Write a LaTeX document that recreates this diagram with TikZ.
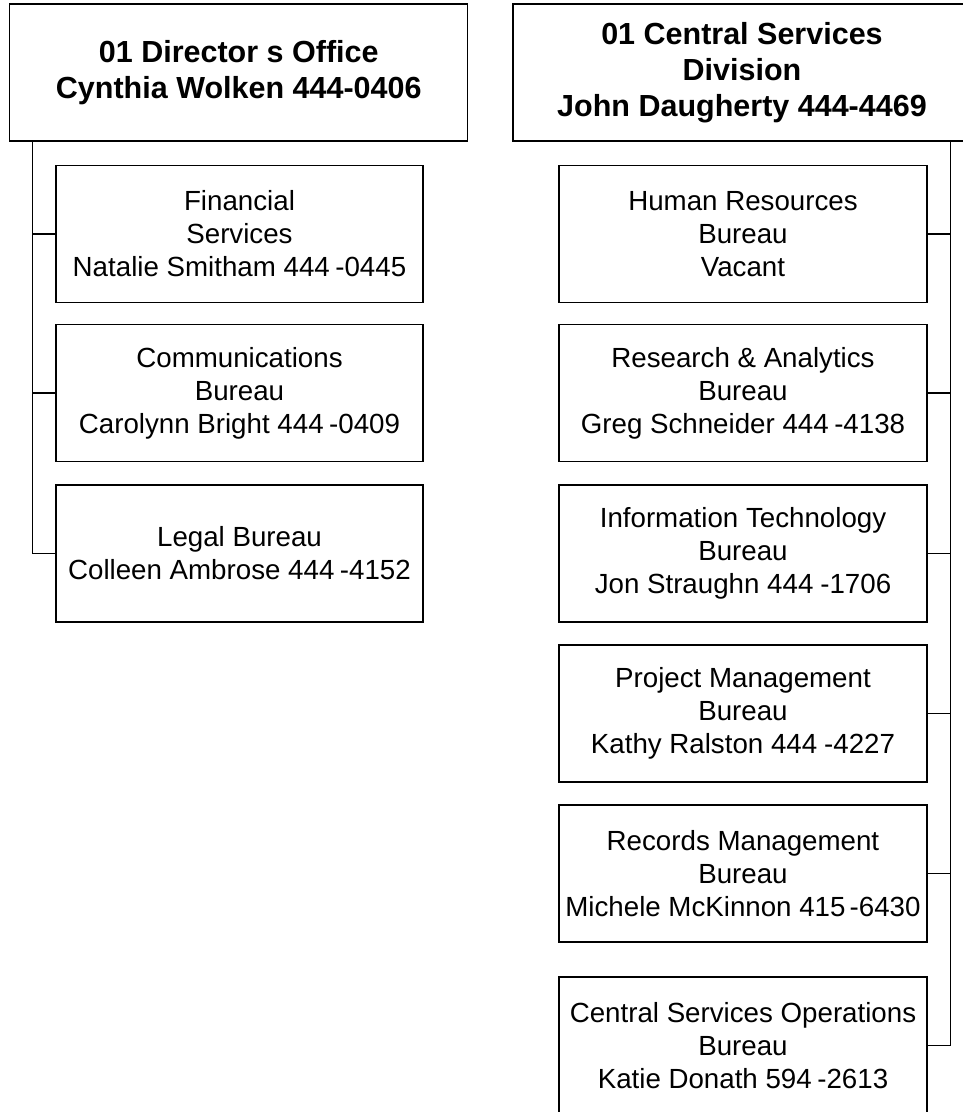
\documentclass[tikz,border=0pt]{standalone}
\usepackage{fontspec}
\setmainfont{Liberation Sans}
\begin{document}
\begin{tikzpicture}[x=1pt,y=-1pt,
  box/.style={draw=black, line width=1.2pt, inner sep=0pt, align=center},
  headbox/.style={box, minimum width=458pt, minimum height=137pt, font=\fontsize{30.5}{36}\selectfont\bfseries},
  unitbox/.style={box, minimum width=367pt, minimum height=137pt, font=\fontsize{27.7}{33}\selectfont},
  link/.style={draw=black, line width=1.2pt}]
\useasboundingbox (0,0) rectangle (963,1112);
\clip (0,0) rectangle (963,1112);
% heads
\node[headbox] (ltop) at (238.75,72.5) {01 Director s Office\\Cynthia Wolken 444-0406};
\node[headbox] (rtop) at (742,72.5) {01 Central Services\\Division\\John Daugherty 444-4469};
% left units
\node[unitbox] (fin) at (239.5,234) {Financial\\Services\\Natalie Smitham 444\kern0.2em-0445};
\node[unitbox] (com) at (239.5,393) {Communications\\Bureau\\Carolynn Bright 444\kern0.2em-0409};
\node[unitbox] (leg) at (239.5,553.5) {Legal Bureau\\Colleen Ambrose 444\kern0.2em-4152};
% right units
\node[unitbox, minimum width=368pt] (hr) at (743,234) {Human Resources\\Bureau\\Vacant};
\node[unitbox, minimum width=368pt] (res) at (743,393) {Research \& Analytics\\Bureau\\Greg Schneider 444\kern0.2em-4138};
\node[unitbox, minimum width=368pt] (it) at (743,553.5) {Information Technology\\Bureau\\Jon Straughn 444\kern0.25em-1706};
\node[unitbox, minimum width=368pt] (pm) at (743,713.5) {Project Management\\Bureau\\Kathy Ralston 444\kern0.25em-4227};
\node[unitbox, minimum width=368pt] (rm) at (743,873.5) {Records Management\\Bureau\\Michele McKinnon 415\kern0.15em-6430};
\node[unitbox, minimum width=368pt] (cso) at (743,1045.5) {Central Services Operations\\Bureau\\Katie Donath 594\kern0.2em-2613};
% left trunk
\coordinate (ltr) at ([xshift=23pt]ltop.south west);
\draw[link] (ltr) |- (leg.west);
\draw[link] (fin.west) -- (fin.west -| ltr);
\draw[link] (com.west) -- (com.west -| ltr);
% right trunk
\coordinate (rtr) at ([xshift=-21pt]rtop.south east);
\draw[link] (rtr) |- (cso.east);
\draw[link] (hr.east) -- (hr.east -| rtr);
\draw[link] (res.east) -- (res.east -| rtr);
\draw[link] (it.east) -- (it.east -| rtr);
\draw[link] (pm.east) -- (pm.east -| rtr);
\draw[link] (rm.east) -- (rm.east -| rtr);
\end{tikzpicture}
\end{document}
